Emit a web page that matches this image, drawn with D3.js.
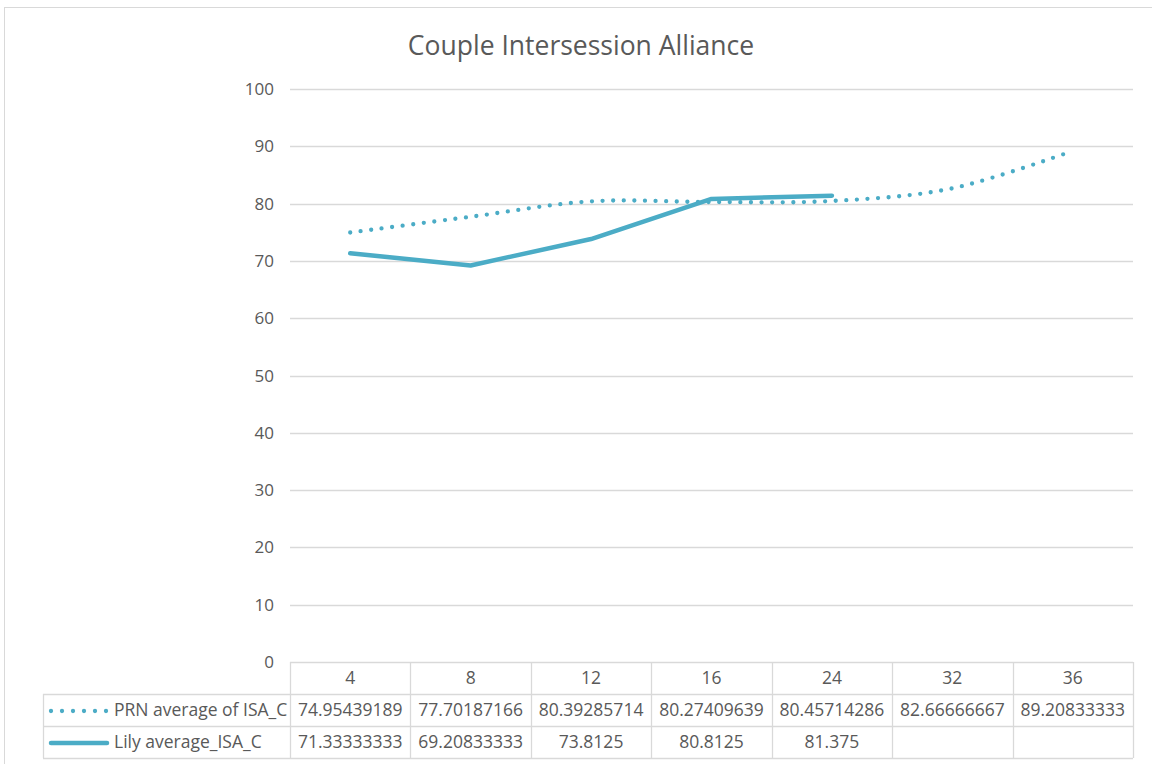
<!DOCTYPE html>
<html>
<head>
<meta charset="utf-8">
<script src="https://cdn.jsdelivr.net/npm/d3@7"></script>
<style>
  body { margin: 0; background: #fff; }
  svg { display: block; font-family: "Open Sans", sans-serif; }
</style>
</head>
<body>
<script>
'use strict';

const categories = ['4', '8', '12', '16', '24', '32', '36'];
const prnValues = [74.95439189, 77.70187166, 80.39285714, 80.27409639, 80.45714286, 82.66666667, 89.20833333];
const lilyValues = [71.33333333, 69.20833333, 73.8125, 80.8125, 81.375, null, null];
const seriesNames = ['PRN average of ISA_C', 'Lily average_ISA_C'];
const yTicks = [0, 10, 20, 30, 40, 50, 60, 70, 80, 90, 100];

const W = 1152, H = 764;
const color = '#4bacc6';
const grid = '#d9d9d9';
const textColor = '#595959';
const fontSize = '17.5px';

const plot = { left: 290, right: 1133, top: 89, bottom: 662 };
const table = { left: 43, rowH: 32 };

const svg = d3.select('body').append('svg')
  .attr('width', W)
  .attr('height', H);

// chart frame
svg.append('rect')
  .attr('x', 4.5).attr('y', 7.5)
  .attr('width', W).attr('height', H)
  .attr('fill', 'none').attr('stroke', grid);

svg.append('text')
  .attr('x', 581).attr('y', 55)
  .attr('text-anchor', 'middle')
  .attr('fill', textColor)
  .style('font-size', '26.5px')
  .text('Couple Intersession Alliance');

const x = d3.scaleBand().domain(categories).range([plot.left, plot.right]);
const y = d3.scaleLinear().domain([0, 100]).range([plot.bottom, plot.top]);

// gridlines + y labels
svg.append('g').selectAll('line')
  .data(yTicks.filter((d) => d > 0))
  .enter().append('line')
  .attr('x1', plot.left).attr('x2', plot.right)
  .attr('y1', (d) => Math.round(y(d)) + 0.5)
  .attr('y2', (d) => Math.round(y(d)) + 0.5)
  .attr('stroke', grid).attr('stroke-width', 1.3);

svg.append('g').selectAll('text')
  .data(yTicks)
  .enter().append('text')
  .attr('x', 274)
  .attr('y', (d) => y(d) + 6)
  .attr('text-anchor', 'end')
  .attr('fill', textColor)
  .style('font-size', '17px')
  .text((d) => d);

// series lines
const cx = (d, i) => x(categories[i]) + x.bandwidth() / 2;

const prnLine = d3.line()
  .x(cx).y((d) => y(d))
  .curve(d3.curveCatmullRom.alpha(0));

svg.append('path')
  .datum(prnValues)
  .attr('d', prnLine)
  .attr('fill', 'none')
  .attr('stroke', color)
  .attr('stroke-width', 4.3)
  .attr('stroke-linecap', 'round')
  .attr('stroke-dasharray', '0 10.6');

const lilyLine = d3.line()
  .defined((d) => d != null)
  .x(cx).y((d) => y(d));

svg.append('path')
  .datum(lilyValues)
  .attr('d', lilyLine)
  .attr('fill', 'none')
  .attr('stroke', color)
  .attr('stroke-width', 4.5)
  .attr('stroke-linejoin', 'round')
  .attr('stroke-linecap', 'round');

// data table
const rows = [prnValues, lilyValues];
const tTop = plot.bottom;
const tBottom = tTop + table.rowH * 3;
const tg = svg.append('g').attr('stroke', grid).attr('stroke-width', 1.3);

// horizontal lines
tg.append('line').attr('x1', plot.left).attr('x2', plot.right).attr('y1', tTop + 0.5).attr('y2', tTop + 0.5);
[1, 2, 3].forEach((r) => {
  tg.append('line')
    .attr('x1', table.left).attr('x2', plot.right)
    .attr('y1', tTop + r * table.rowH + 0.5).attr('y2', tTop + r * table.rowH + 0.5);
});
// vertical lines
tg.append('line').attr('x1', table.left + 0.5).attr('x2', table.left + 0.5)
  .attr('y1', tTop + table.rowH).attr('y2', tBottom);
categories.forEach((c) => {
  tg.append('line')
    .attr('x1', Math.round(x(c)) + 0.5).attr('x2', Math.round(x(c)) + 0.5)
    .attr('y1', tTop).attr('y2', tBottom);
});
tg.append('line').attr('x1', plot.right + 0.5).attr('x2', plot.right + 0.5)
  .attr('y1', tTop).attr('y2', tBottom);

// header labels
svg.append('g').selectAll('text')
  .data(categories)
  .enter().append('text')
  .attr('x', (d) => x(d) + x.bandwidth() / 2)
  .attr('y', tTop + 22)
  .attr('text-anchor', 'middle')
  .attr('fill', textColor)
  .style('font-size', fontSize)
  .text((d) => d);

rows.forEach((vals, r) => {
  const ty = tTop + (r + 1) * table.rowH + 22;
  svg.append('g').selectAll('text')
    .data(vals)
    .enter().append('text')
    .attr('x', cx)
    .attr('y', ty)
    .attr('text-anchor', 'middle')
    .attr('fill', textColor)
    .style('font-size', fontSize)
    .text((d) => (d == null ? '' : String(d)));

  svg.append('text')
    .attr('x', 114).attr('y', ty)
    .attr('fill', textColor)
    .style('font-size', fontSize)
    .text(seriesNames[r]);
});

// legend keys
const k1 = tTop + table.rowH * 1.5 + 1;
svg.append('line')
  .attr('x1', 51).attr('x2', 107)
  .attr('y1', k1).attr('y2', k1)
  .attr('stroke', color).attr('stroke-width', 4.3)
  .attr('stroke-linecap', 'round')
  .attr('stroke-dasharray', '0 11');
const k2 = tTop + table.rowH * 2.5 + 1;
svg.append('line')
  .attr('x1', 51).attr('x2', 107)
  .attr('y1', k2).attr('y2', k2)
  .attr('stroke', color).attr('stroke-width', 4.5)
  .attr('stroke-linecap', 'round');
</script>
</body>
</html>
